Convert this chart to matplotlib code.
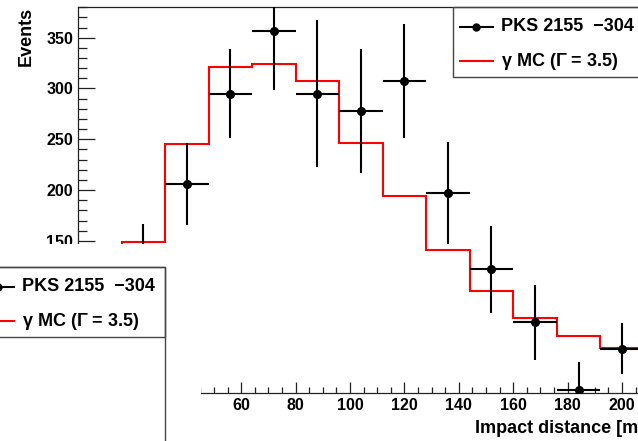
import numpy as np
import matplotlib
matplotlib.use("Agg")
import matplotlib.pyplot as plt
from matplotlib.patches import Rectangle
from matplotlib.lines import Line2D
from matplotlib.transforms import Affine2D
from matplotlib.ticker import MultipleLocator

plt.rcParams['font.family'] = ['Liberation Sans', 'DejaVu Sans']
plt.rcParams['font.weight'] = 'bold'
plt.rcParams['mathtext.fontset'] = 'custom'
plt.rcParams['mathtext.rm'] = 'Liberation Sans'
plt.rcParams['mathtext.it'] = 'Liberation Sans:italic'

# impact distance binning [m]
bin_edges = np.arange(0, 209, 16)
bin_centers = 0.5 * (bin_edges[:-1] + bin_edges[1:])

# PKS 2155-304 excess events and errors
data_events = [40, 130, 206, 295, 357, 295, 278, 307, 197, 122, 70, 3, 44]
data_errors = [30, 37, 40, 44, 58, 72, 61, 56, 50, 43, 37, 28, 25]

# gamma-ray MC, photon index 3.5
mc_events = [60, 149, 245, 321, 324, 307, 246, 194, 141, 101, 74, 56, 45]

data_label = "PKS 2155  \u2212304"
mc_label = r"$\mathrm{\gamma}$ MC ($\mathrm{\Gamma}$ = 3.5)"

W, H = 638, 441
fig = plt.figure(figsize=(W / 100, H / 100), dpi=100)
# pixel coords, origin top-left
px = Affine2D().scale(1 / W, -1 / H).translate(0, 1) + fig.transFigure

ax = fig.add_axes([78 / W, (H - 393.3) / H, 565.8 / W, 386.1 / H])
ax.stairs(mc_events, bin_edges, color='red', lw=1.5, baseline=None, zorder=2)
ax.errorbar(bin_centers, data_events, xerr=8, yerr=data_errors, fmt='o',
            color='black', ms=5.5, lw=1.5, capsize=0, zorder=3)

ax.set_xlim(0, 208)
ax.set_ylim(0, 380)
ax.xaxis.set_major_locator(MultipleLocator(20))
ax.xaxis.set_minor_locator(MultipleLocator(5))
ax.yaxis.set_major_locator(MultipleLocator(50))
ax.yaxis.set_minor_locator(MultipleLocator(10))
ax.tick_params(axis='both', which='both', direction='in', colors='#222222',
               labelcolor='black', labelsize=11.5, pad=3.6, width=0.9)
ax.tick_params(axis='x', which='major', length=7.9)
ax.tick_params(axis='x', which='minor', length=4.1)
ax.tick_params(axis='y', which='major', length=12.2)
ax.tick_params(axis='y', which='minor', length=6.2)
for lab in ax.get_xticklabels() + ax.get_yticklabels():
    lab.set_fontweight('bold')
for sp in ax.spines.values():
    sp.set_color('#222222')
    sp.set_linewidth(0.9)

ax.set_xlabel("Impact distance [m]", loc='right', fontsize=13, fontweight='bold')
ax.xaxis.set_label_coords(1.0, -0.068)
ax.set_ylabel("Events", loc='top', fontsize=13, fontweight='bold')
ax.yaxis.set_label_coords(-0.076, 1.0)


def draw_legend(x0, y0, trans, zorder=5):
    # frame plus two entries, x0/y0 = top-left corner in pixels
    ax_obj = fig
    box = Rectangle((x0, y0), 190.5, 69.7, transform=trans, fill=False,
                    edgecolor='#444444', lw=1.0, zorder=zorder)
    fig.add_artist(box)
    r1, r2 = y0 + 19.5, y0 + 54
    fig.add_artist(Line2D([x0 + 7, x0 + 40], [r1, r1], color='black', lw=1.5,
                          transform=trans, zorder=zorder))
    fig.add_artist(Line2D([x0 + 23.5], [r1], marker='o', ms=5, color='black',
                          transform=trans, zorder=zorder))
    fig.add_artist(Line2D([x0 + 7, x0 + 40], [r2, r2], color='red', lw=1.5,
                          transform=trans, zorder=zorder))
    fig.text(x0 + 48, r1, data_label, transform=trans, fontsize=13,
             fontweight='bold', va='center', ha='left', zorder=zorder)
    fig.text(x0 + 48, r2, mc_label, transform=trans, fontsize=13,
             fontweight='bold', va='center', ha='left', zorder=zorder)


draw_legend(452.7, 7, px)

# white pad covering the lower-left corner, with its own legend
pad = fig.add_axes([0, 0, 200.5 / W, (H - 244) / H], facecolor='white')
pad.set_xticks([])
pad.set_yticks([])
for sp in pad.spines.values():
    sp.set_visible(False)
pad.set_zorder(4)
fig.add_artist(Rectangle((-25.6, 267), 190.6, 200, transform=px, fill=False,
                         edgecolor='#444444', lw=1.0, zorder=5))
draw_legend(-25.6, 267, px, zorder=6)

fig.savefig("out.png", dpi=100)
